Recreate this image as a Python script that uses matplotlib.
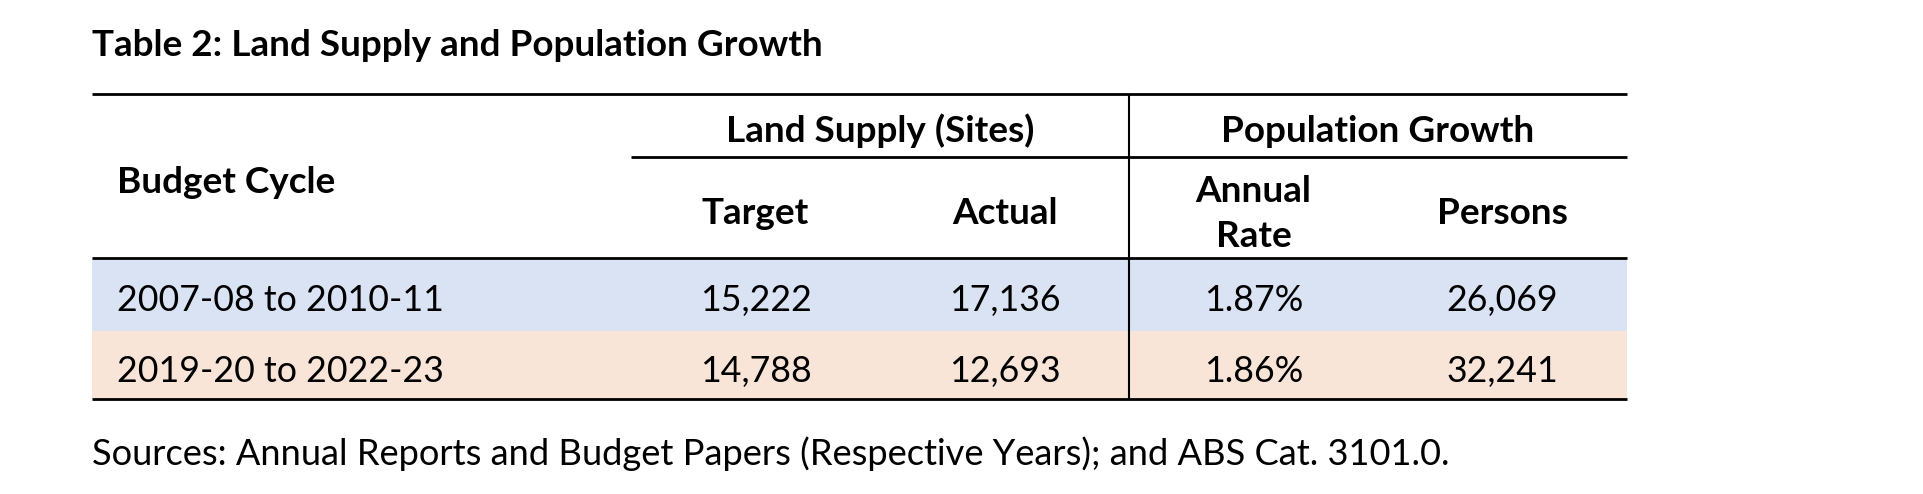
import matplotlib
matplotlib.use("Agg")
import matplotlib.pyplot as plt

# ---- data ----
title = "Table 2: Land Supply and Population Growth"
group_headers = ["Land Supply (Sites)", "Population Growth"]
col_headers = ["Target", "Actual", "Annual\nRate", "Persons"]
first_header = "Budget Cycle"
cycles = ["2007-08 to 2010-11", "2019-20 to 2022-23"]
target = [15222, 14788]
actual = [17136, 12693]
annual_rate = [1.87, 1.86]
persons = [26069, 32241]
source = "Sources: Annual Reports and Budget Papers (Respective Years); and ABS Cat. 3101.0."

# ---- styling ----
W, H = 1924, 494
FONT = "Lato"
row_colors = ["#DAE3F3", "#F8E5D8"]

fig = plt.figure(figsize=(W / 100, H / 100), dpi=100)
ax = fig.add_axes([0, 0, 1, 1])
ax.set_xlim(0, W)
ax.set_ylim(H, 0)
ax.axis("off")

renderer = fig.canvas.get_renderer()


def fit_size(s, width, weight, boost=1.0):
    t = ax.text(0, 0, s, fontsize=20, family=FONT, fontweight=weight)
    w = t.get_window_extent(renderer=renderer).width
    t.remove()
    return 20 * width / w * boost


title_size = fit_size(title, 731, "bold")
head_size = fit_size(group_headers[0], 300, "bold", 1.03)
body_size = fit_size(cycles[0], 317, "normal", 1.03)
src_size = fit_size(source, 1363, "normal")

left, right = 92, 1627
col_left = 631
col_w = (right - col_left) / 4
col_centers = [col_left + col_w * (i + 0.5) for i in range(4)]
vline_x = col_left + 2 * col_w

y_top, y_sub, y_head, y_bottom = 94, 157, 258, 399
row_bounds = [y_head, 331, y_bottom]

# row backgrounds
for i in range(len(cycles)):
    ax.fill_between([left, right], row_bounds[i], row_bounds[i + 1],
                    color=row_colors[i], linewidth=0, zorder=0)

# rules
lw_h = 2.0
ax.plot([left, right], [y_top, y_top], color="black", lw=lw_h, solid_capstyle="butt")
ax.plot([col_left, right], [y_sub, y_sub], color="black", lw=lw_h, solid_capstyle="butt")
ax.plot([left, right], [y_head, y_head], color="black", lw=lw_h, solid_capstyle="butt")
ax.plot([left, right], [y_bottom, y_bottom], color="black", lw=lw_h, solid_capstyle="butt")
ax.plot([vline_x, vline_x], [y_top, y_bottom], color="black", lw=1.5, solid_capstyle="butt")

# title
ax.text(left, 56, title, fontsize=title_size, family=FONT, fontweight="bold",
        ha="left", va="baseline")

# group headers
ax.text((col_centers[0] + col_centers[1]) / 2, 142, group_headers[0], fontsize=head_size,
        family=FONT, fontweight="bold", ha="center", va="baseline")
ax.text((col_centers[2] + col_centers[3]) / 2, 142, group_headers[1], fontsize=head_size,
        family=FONT, fontweight="bold", ha="center", va="baseline")

ax.text(117, 193, first_header, fontsize=head_size, family=FONT, fontweight="bold",
        ha="left", va="baseline")

for cx, hd in zip(col_centers, col_headers):
    lines = hd.split("\n")
    if len(lines) == 1:
        ax.text(cx, 224, lines[0], fontsize=head_size, family=FONT, fontweight="bold",
                ha="center", va="baseline")
    else:
        ax.text(cx, 202, lines[0], fontsize=head_size, family=FONT, fontweight="bold",
                ha="center", va="baseline")
        ax.text(cx, 247, lines[1], fontsize=head_size, family=FONT, fontweight="bold",
                ha="center", va="baseline")

# body rows
baselines = [311, 382]
for i in range(len(cycles)):
    y = baselines[i]
    ax.text(117, y, cycles[i], fontsize=body_size, family=FONT, ha="left", va="baseline")
    vals = [f"{target[i]:,}", f"{actual[i]:,}", f"{annual_rate[i]:.2f}%", f"{persons[i]:,}"]
    for cx, v in zip(col_centers, vals):
        ax.text(cx, y, v, fontsize=body_size, family=FONT, ha="center", va="baseline")

# source
ax.text(left, 465, source, fontsize=src_size, family=FONT, ha="left", va="baseline")

fig.savefig("out.png", dpi=100, facecolor="white")
